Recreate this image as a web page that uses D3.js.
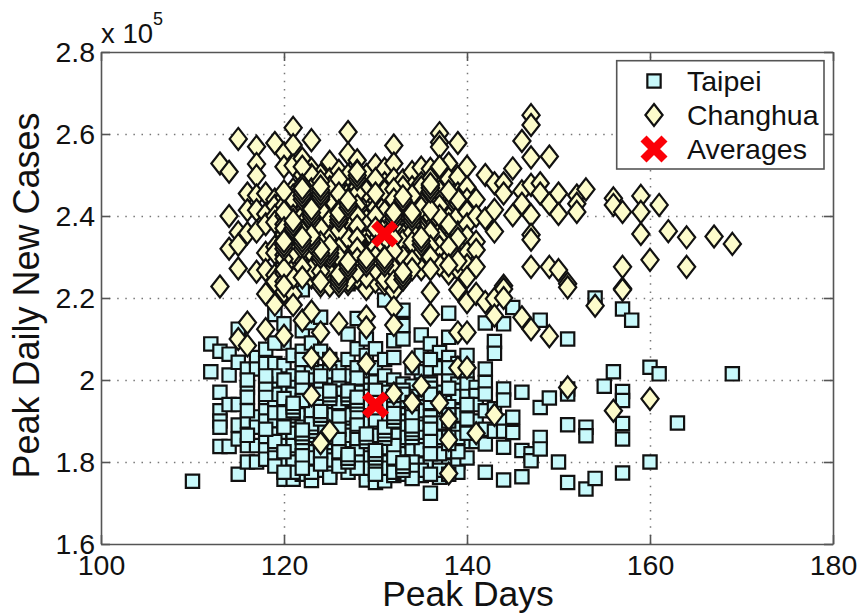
<!DOCTYPE html>
<html>
<head>
<meta charset="utf-8">
<script src="https://cdn.jsdelivr.net/npm/d3@7"></script>
<style>
  html, body { margin: 0; padding: 0; background: #fff; }
  text { font-family: "Liberation Sans", Arial, sans-serif; fill: #111; }
</style>
</head>
<body>
<svg id="chart" width="857" height="614"></svg>
<script>
// each row: day, then the peak values seen in that column (x 10^5)
const taipeiRows = [
  [110, 1.753],
  [112, 2.088, 2.02],
  [113, 2.07, 1.97, 1.925, 1.90, 1.885, 1.838],
  [114, 2.063, 2.012, 1.94, 1.838],
  [115, 2.124, 2.043, 1.94, 1.89, 1.856, 1.77],
  [116, 2.027, 1.982, 1.958, 1.90, 1.84, 1.80],
  [117, 2.055, 2.027, 1.91, 1.885, 1.84, 1.80],
  [118, 2.075, 2.04, 1.945, 1.925, 1.90, 1.86, 1.83, 1.807],
  [119, 2.16, 2.04, 1.986, 1.955, 1.933, 1.90, 1.868, 1.836, 1.81],
  [120, 2.137, 2.09, 2.035, 1.978, 1.937, 1.90, 1.872, 1.84, 1.8, 1.758],
  [121, 2.06, 2.01, 1.982, 1.955, 1.90, 1.88, 1.855, 1.82, 1.79, 1.758],
  [122, 2.22, 2.12, 2.07, 2.02, 1.99, 1.96, 1.935, 1.915, 1.885, 1.86, 1.83, 1.80, 1.77],
  [123, 2.14, 2.09, 2.03, 2.00, 1.975, 1.94, 1.91, 1.895, 1.875, 1.855, 1.825, 1.79, 1.755],
  [124, 2.153, 2.07, 2.02, 1.985, 1.95, 1.925, 1.90, 1.87, 1.84, 1.81, 1.78],
  [125, 2.05, 1.995, 1.97, 1.96, 1.93, 1.90, 1.88, 1.845, 1.815, 1.79, 1.775, 1.763],
  [126, 2.03, 1.995, 1.97, 1.96, 1.925, 1.895, 1.87, 1.84, 1.81],
  [127, 2.235, 2.112, 2.05, 2.01, 1.97, 1.955, 1.93, 1.905, 1.885, 1.85, 1.82, 1.775],
  [128, 2.24, 2.15, 2.076, 2.03, 1.985, 1.96, 1.93, 1.90, 1.875, 1.84],
  [129, 2.10, 2.06, 2.02, 1.99, 1.975, 1.95, 1.92, 1.885, 1.87, 1.85, 1.82, 1.795, 1.775, 1.756],
  [130, 2.076, 2.03, 1.995, 1.965, 1.935, 1.91, 1.885, 1.86, 1.83, 1.80, 1.78, 1.75],
  [131, 2.195, 2.05, 2.01, 1.98, 1.95, 1.915, 1.89, 1.87, 1.845, 1.82, 1.79, 1.77, 1.754],
  [132, 2.096, 2.055, 2.00, 1.975, 1.94, 1.915, 1.885, 1.855, 1.825, 1.80, 1.785, 1.767],
  [133, 2.17, 2.133, 2.10, 1.99, 1.95, 1.915, 1.90, 1.885, 1.87, 1.84, 1.82],
  [134, 1.985, 1.96, 1.925, 1.90, 1.885, 1.87, 1.85, 1.83],
  [135, 2.11, 2.06, 2.02, 1.905, 1.885, 1.86, 1.795, 1.767],
  [136, 2.088, 2.027, 1.99, 1.955, 1.92, 1.865, 1.835, 1.80, 1.724],
  [137, 2.067, 2.03, 1.97, 1.93, 1.88, 1.84, 1.80, 1.763],
  [138, 2.163, 2.104, 2.055, 2.01, 1.965, 1.945, 1.88, 1.825, 1.79],
  [139, 2.04, 1.99, 1.975, 1.96, 1.88, 1.84, 1.80, 1.775],
  [140, 2.06, 2.02, 1.99, 1.96, 1.92, 1.885, 1.85, 1.81],
  [141, 1.982, 1.962, 1.94, 1.90, 1.875, 1.85],
  [142, 2.139, 2.027, 1.994, 1.966, 1.925, 1.88, 1.844, 1.775],
  [143, 2.094, 2.065, 1.93, 1.875],
  [144, 2.137, 1.978, 1.951, 1.90, 1.875, 1.836, 1.756],
  [145, 2.177, 1.909, 1.872],
  [146, 1.97, 1.828, 1.764],
  [147, 1.82, 1.803],
  [148, 2.146, 1.933, 1.86, 1.832],
  [149, 1.956],
  [150, 1.80],
  [151, 2.10, 1.978, 1.966, 1.891, 1.75],
  [153, 1.885, 1.864, 1.734],
  [154, 2.20, 1.76],
  [155, 1.985],
  [156, 2.02],
  [157, 2.173, 1.972, 1.95, 1.894, 1.856, 1.773],
  [158, 2.146],
  [160, 2.031, 1.80],
  [161, 2.015],
  [163, 1.895],
  [169, 2.015],
  // second pass through the crowded columns
  [139, 1.925, 1.915, 1.86, 1.825],
  [137, 1.955, 1.905, 1.895, 1.86, 1.82, 1.78],
  [135, 1.945, 1.935, 1.925, 1.84, 1.83, 1.78],
  [133, 1.975, 1.965, 1.885, 1.86, 1.80, 1.785, 1.77],
  [131, 1.97, 1.935, 1.905, 1.88, 1.875, 1.835, 1.80, 1.785],
  [129, 1.96, 1.945, 1.905, 1.895, 1.865, 1.84, 1.81, 1.785],
  [127, 1.968, 1.96, 1.92, 1.915, 1.875, 1.865, 1.81],
  [125, 2.02, 1.975, 1.965, 1.915, 1.87, 1.86, 1.805],
  [123, 2.05, 1.96, 1.925, 1.87, 1.865, 1.81, 1.775],
  [121, 1.965, 1.935, 1.928, 1.92, 1.87, 1.84, 1.80, 1.775],
  [119, 2.09, 2.01, 1.965, 1.92, 1.85, 1.79],
  [138, 1.935, 1.915, 1.90, 1.86, 1.845, 1.77],
  [136, 1.945, 1.91, 1.895, 1.88, 1.85, 1.82, 1.77],
  [134, 2.03, 1.945, 1.935, 1.91, 1.86, 1.80, 1.78, 1.76],
  [132, 1.96, 1.93, 1.905, 1.87, 1.865, 1.84, 1.81, 1.775],
  [130, 1.975, 1.945, 1.92, 1.90, 1.87, 1.865, 1.815, 1.79, 1.77],
  [128, 2.005, 1.97, 1.945, 1.915, 1.89, 1.86, 1.855, 1.825, 1.80, 1.785],
  [126, 2.01, 1.98, 1.968, 1.945, 1.91, 1.88, 1.855, 1.825, 1.79],
  [124, 2.01, 1.965, 1.935, 1.89, 1.88, 1.855, 1.825, 1.795],
  [122, 2.05, 2.005, 1.975, 1.95, 1.87, 1.845, 1.815, 1.785],
  [120, 2.00, 1.955, 1.92, 1.885, 1.825, 1.775],
  // close stacks, upper square drawn last
  [121, 1.925, 1.934, 1.943],
  [123, 1.875, 1.884, 1.893],
  [125, 1.955, 1.964, 1.973],
  [127, 1.955, 1.964, 1.973],
  [124, 1.905, 1.914, 1.923],
  [129, 1.85, 1.859, 1.868],
  [131, 1.858, 1.867, 1.876, 1.885],
  [132, 1.90, 1.909, 1.918],
  [134, 1.87, 1.879, 1.888],
  [122, 1.86, 1.869, 1.878],
  [128, 1.94, 1.949, 1.958],
  [130, 1.81, 1.819, 1.828],
  [127, 1.80, 1.809, 1.818],
  [133, 1.78, 1.789, 1.798],
  [118, 1.965, 1.99, 2.01, 1.88],
  [116, 2.00, 1.925, 1.865],
  [136, 1.98, 2.05, 1.965],
  [138, 1.98, 2.03],
  [140, 1.94, 1.905, 1.87]
];

const changhuaRows = [
  [113, 2.528, 2.228],
  [114, 2.508, 2.40, 2.32],
  [115, 2.588, 2.36, 2.33, 2.272, 2.10],
  [116, 2.455, 2.414, 2.358, 2.14, 2.084],
  [117, 2.569, 2.527, 2.498, 2.45, 2.414, 2.362, 2.264],
  [118, 2.455, 2.405, 2.38, 2.31, 2.268, 2.21, 2.124],
  [119, 2.578, 2.44, 2.425, 2.40, 2.385, 2.325, 2.31, 2.256, 2.24, 2.184],
  [120, 2.553, 2.52, 2.445, 2.426, 2.40, 2.38, 2.355, 2.33, 2.305, 2.28, 2.26, 2.24, 2.215, 2.108],
  [121, 2.615, 2.573, 2.523, 2.465, 2.45, 2.43, 2.415, 2.384, 2.365, 2.34, 2.32, 2.294, 2.27, 2.24, 2.21, 2.183],
  [122, 2.54, 2.50, 2.46, 2.44, 2.425, 2.41, 2.39, 2.37, 2.35, 2.335, 2.31, 2.29, 2.26, 2.145],
  [123, 2.585, 2.515, 2.485, 2.455, 2.43, 2.41, 2.395, 2.375, 2.35, 2.33, 2.30, 2.28, 2.25, 2.167, 2.054, 1.962],
  [124, 2.50, 2.47, 2.45, 2.43, 2.41, 2.385, 2.36, 2.345, 2.325, 2.30, 2.275, 2.255, 2.23, 2.116, 1.846],
  [125, 2.532, 2.49, 2.45, 2.435, 2.42, 2.405, 2.38, 2.36, 2.34, 2.315, 2.295, 2.27, 2.245, 2.051, 1.875],
  [126, 2.51, 2.47, 2.445, 2.425, 2.40, 2.375, 2.35, 2.33, 2.31, 2.285, 2.265, 2.25, 2.138],
  [127, 2.605, 2.552, 2.49, 2.455, 2.425, 2.405, 2.38, 2.36, 2.335, 2.31, 2.285, 2.26, 2.234],
  [128, 2.536, 2.51, 2.50, 2.47, 2.44, 2.41, 2.385, 2.36, 2.335, 2.31, 2.28, 2.25],
  [129, 2.48, 2.45, 2.425, 2.40, 2.37, 2.345, 2.32, 2.30, 2.275, 2.222, 2.155, 2.128, 2.04],
  [130, 2.524, 2.475, 2.44, 2.42, 2.385, 2.34, 2.31, 2.285, 2.26, 2.24],
  [131, 2.515, 2.48, 2.45, 2.425, 2.40, 2.37, 2.335, 2.31, 2.28, 2.255, 2.234],
  [132, 2.572, 2.528, 2.49, 2.45, 2.425, 2.39, 2.36, 2.33, 2.30, 2.28, 2.26, 2.218, 2.177, 2.134, 1.967],
  [133, 2.487, 2.46, 2.43, 2.405, 2.38, 2.355, 2.33, 2.31, 2.29, 2.27, 2.25],
  [134, 2.507, 2.47, 2.44, 2.42, 2.39, 2.345, 2.32, 2.30, 2.043, 1.945],
  [135, 2.518, 2.48, 2.44, 2.41, 2.38, 2.35, 2.325, 2.30, 2.28, 1.986],
  [136, 2.515, 2.49, 2.46, 2.43, 2.40, 2.37, 2.34, 2.31, 2.29, 2.214, 2.16],
  [137, 2.602, 2.58, 2.568, 2.47, 2.44, 2.41, 2.39, 2.36, 2.335, 2.30, 1.944],
  [138, 2.528, 2.49, 2.45, 2.42, 2.395, 2.37, 2.34, 2.30, 2.26, 1.905, 1.854, 1.772],
  [139, 2.578, 2.495, 2.455, 2.43, 2.40, 2.36, 2.33, 2.30, 2.27, 2.22, 2.116, 2.03],
  [140, 2.52, 2.47, 2.44, 2.41, 2.38, 2.35, 2.31, 2.28, 2.25, 2.19, 2.116, 2.03],
  [141, 2.44, 2.40, 2.337, 2.317, 2.276, 2.21, 1.87],
  [142, 2.50, 2.394, 2.19],
  [143, 2.48, 2.415, 2.362, 2.198, 2.157, 1.915],
  [144, 2.48, 2.455, 2.23, 2.222, 2.20],
  [145, 2.516, 2.402],
  [146, 2.583, 2.46, 2.43, 2.153],
  [147, 2.646, 2.622, 2.543, 2.476, 2.402, 2.354, 2.342, 2.276, 2.124],
  [148, 2.48, 2.455],
  [149, 2.545, 2.43, 2.276, 2.107],
  [150, 2.455, 2.405, 2.268],
  [151, 2.235, 2.226, 1.982],
  [152, 2.45, 2.43, 2.41],
  [153, 2.465],
  [154, 2.181],
  [156, 2.443, 2.427, 1.925],
  [157, 2.41, 2.276, 2.223, 2.22],
  [159, 2.449, 2.41, 2.356],
  [160, 2.293, 1.954],
  [161, 2.427],
  [162, 2.363],
  [164, 2.348, 2.276],
  [167, 2.35],
  [169, 2.332],
  // second pass through the crowded columns
  [139, 2.44, 2.345, 2.29],
  [137, 2.52, 2.46, 2.425, 2.40, 2.345, 2.325, 2.28],
  [135, 2.47, 2.43, 2.42, 2.37, 2.36, 2.315, 2.27],
  [133, 2.47, 2.44, 2.425, 2.415, 2.34, 2.30, 2.26, 2.252, 2.245],
  [131, 2.46, 2.41, 2.345, 2.32, 2.30, 2.245],
  [129, 2.50, 2.46, 2.39, 2.33, 2.315, 2.31, 2.305, 2.265, 2.25],
  [127, 2.50, 2.44, 2.395, 2.388, 2.38, 2.345, 2.30, 2.25, 2.242],
  [125, 2.47, 2.43, 2.39, 2.35, 2.32, 2.312, 2.305, 2.298, 2.26, 2.23],
  [123, 2.50, 2.465, 2.42, 2.40, 2.36, 2.34, 2.31, 2.27],
  [121, 2.44, 2.40, 2.39, 2.378, 2.372, 2.33, 2.31, 2.25],
  [138, 2.46, 2.38, 2.325, 2.28],
  [136, 2.475, 2.468, 2.46, 2.415, 2.36, 2.325, 2.30, 2.27],
  [134, 2.45, 2.405, 2.38, 2.36, 2.335, 2.29, 2.27],
  [132, 2.465, 2.44, 2.405, 2.375, 2.345, 2.315, 2.27, 2.24],
  [130, 2.49, 2.455, 2.40, 2.37, 2.325, 2.30, 2.27],
  [128, 2.455, 2.425, 2.40, 2.375, 2.345, 2.32, 2.295, 2.265],
  [126, 2.49, 2.455, 2.412, 2.39, 2.384, 2.365, 2.32, 2.30, 2.245, 2.238, 2.23],
  [124, 2.485, 2.455, 2.448, 2.44, 2.42, 2.415, 2.37, 2.335, 2.29, 2.265, 2.24],
  [122, 2.52, 2.475, 2.45, 2.40, 2.38, 2.36, 2.32, 2.275, 2.25],
  [120, 2.46, 2.41, 2.37, 2.34, 2.295, 2.27, 2.23],
  // close stacks, upper diamond drawn last
  [122, 2.44, 2.449, 2.458, 2.467],
  [124, 2.445, 2.454, 2.463, 2.472],
  [121, 2.37, 2.379, 2.388],
  [123, 2.39, 2.399, 2.408, 2.417],
  [126, 2.39, 2.399, 2.408],
  [125, 2.30, 2.309, 2.318, 2.327],
  [124, 2.30, 2.309, 2.318],
  [123, 2.335, 2.344, 2.353],
  [127, 2.42, 2.429, 2.438],
  [128, 2.49, 2.499, 2.508],
  [129, 2.28, 2.289, 2.298],
  [126, 2.24, 2.249, 2.258],
  [127, 2.27, 2.279, 2.288],
  [131, 2.28, 2.289, 2.298],
  [133, 2.43, 2.439, 2.448],
  [133, 2.245, 2.254, 2.263],
  [134, 2.39, 2.399, 2.408],
  [136, 2.46, 2.469, 2.478],
  [135, 2.33, 2.339, 2.348],
  [132, 2.39, 2.399, 2.408],
  [120, 2.32, 2.329, 2.338],
  [122, 2.33, 2.339, 2.348]
];

const averages = [[130, 1.939], [131, 2.356]];
const xTicks = [100, 120, 140, 160, 180];
const yTicks = [1.6, 1.8, 2, 2.2, 2.4, 2.6, 2.8];
const legendLabels = ['Taipei', 'Changhua', 'Averages'];

const width = 857, height = 614;
const margin = {top: 52, right: 24, bottom: 70, left: 101};
const squareFill = '#c8f9fb', diamondFill = '#fdfccb', lineColor = '#111', axisColor = '#555';

const unpack = rows => rows.flatMap(r => r.slice(1).map(v => ({day: r[0], value: v})));

const svg = d3.select('#chart');

const x = d3.scaleLinear().domain([100, 180]).range([margin.left, width - margin.right]);
const y = d3.scaleLinear().domain([1.6, 2.8]).range([height - margin.bottom, margin.top]);

const innerW = width - margin.left - margin.right;
const innerH = height - margin.top - margin.bottom;

// dotted grid first, so the marks sit on top of it
svg.append('g')
  .attr('transform', `translate(0,${height - margin.bottom})`)
  .call(d3.axisBottom(x).tickValues(xTicks.slice(1, -1)).tickSize(-innerH).tickFormat(''))
  .call(g => g.select('.domain').remove())
  .selectAll('line').attr('stroke', '#777').attr('stroke-width', 1.5).attr('stroke-dasharray', '1.5 6.6');

svg.append('g')
  .attr('transform', `translate(${margin.left},0)`)
  .call(d3.axisLeft(y).tickValues(yTicks.slice(1, -1)).tickSize(-innerW).tickFormat(''))
  .call(g => g.select('.domain').remove())
  .selectAll('line').attr('stroke', '#777').attr('stroke-width', 1.5).attr('stroke-dasharray', '1.5 6.6');

// axes on all four sides, ticks pointing in
const bottom = svg.append('g')
  .attr('transform', `translate(0,${height - margin.bottom})`)
  .call(d3.axisBottom(x).tickValues(xTicks).tickSize(-9).tickPadding(11).tickSizeOuter(0).tickFormat(d3.format('d')));
const left = svg.append('g')
  .attr('transform', `translate(${margin.left},0)`)
  .call(d3.axisLeft(y).tickValues(yTicks).tickSize(-9).tickPadding(6).tickSizeOuter(0).tickFormat(d => String(d)));
const top_ = svg.append('g')
  .attr('transform', `translate(0,${margin.top})`)
  .call(d3.axisTop(x).tickValues(xTicks).tickSize(-9).tickSizeOuter(0).tickFormat(''));
const right = svg.append('g')
  .attr('transform', `translate(${width - margin.right},0)`)
  .call(d3.axisRight(y).tickValues(yTicks).tickSize(-9).tickSizeOuter(0).tickFormat(''));

[bottom, left, top_, right].forEach(g => {
  g.selectAll('.domain, line').attr('stroke', axisColor).attr('stroke-width', 1.6);
  g.selectAll('text').style('font-size', '28.5px').attr('fill', '#111');
});

const squarePath = d3.symbol(d3.symbolSquare, 13.3 * 13.3)();
const diamondPath = 'M0,-11L8.6,0L0,11L-8.6,0Z';
const crossPath = 'M-10.5,-10.5L10.5,10.5M-10.5,10.5L10.5,-10.5';

svg.append('g').selectAll('path')
  .data(unpack(taipeiRows))
  .enter().append('path')
  .attr('d', squarePath)
  .attr('transform', d => `translate(${x(d.day)},${y(d.value)})`)
  .attr('fill', squareFill).attr('stroke', lineColor).attr('stroke-width', 2.2);

svg.append('g').selectAll('path')
  .data(unpack(changhuaRows))
  .enter().append('path')
  .attr('d', diamondPath)
  .attr('transform', d => `translate(${x(d.day)},${y(d.value)})`)
  .attr('fill', diamondFill).attr('stroke', lineColor).attr('stroke-width', 2.2);

svg.append('g').selectAll('path')
  .data(averages)
  .enter().append('path')
  .attr('d', crossPath)
  .attr('transform', d => `translate(${x(d[0])},${y(d[1])})`)
  .attr('fill', 'none').attr('stroke', '#fb0007').attr('stroke-width', 8.5);

// axis titles and the multiplier
svg.append('text')
  .attr('x', 468).attr('y', 606).attr('text-anchor', 'middle')
  .style('font-size', '35.5px').text('Peak Days');
svg.append('text')
  .attr('transform', 'translate(39,295.5) rotate(-90)').attr('text-anchor', 'middle')
  .style('font-size', '36px').text('Peak Daily New Cases');

const mult = svg.append('text').attr('x', 101).attr('y', 43).style('font-size', '27.5px');
mult.append('tspan').text('x 10');
mult.append('tspan').attr('dy', -18).style('font-size', '18px').text('5');

// legend
const legend = svg.append('g');
legend.append('rect')
  .attr('x', 616.7).attr('y', 60.7).attr('width', 207.3).attr('height', 108.3)
  .attr('fill', '#fff').attr('stroke', axisColor).attr('stroke-width', 1.6);

const legendRows = legend.selectAll('g')
  .data(legendLabels)
  .enter().append('g')
  .attr('transform', (d, i) => `translate(654,${[81, 115, 149][i]})`);

legendRows.append('path')
  .attr('d', (d, i) => [squarePath, diamondPath, crossPath][i])
  .attr('fill', (d, i) => [squareFill, diamondFill, 'none'][i])
  .attr('stroke', (d, i) => i === 2 ? '#fb0007' : lineColor)
  .attr('stroke-width', (d, i) => i === 2 ? 8.5 : 2.2);

legendRows.append('text')
  .attr('x', 33).attr('y', 9.5)
  .style('font-size', '28.5px')
  .text(d => d);
</script>
</body>
</html>
